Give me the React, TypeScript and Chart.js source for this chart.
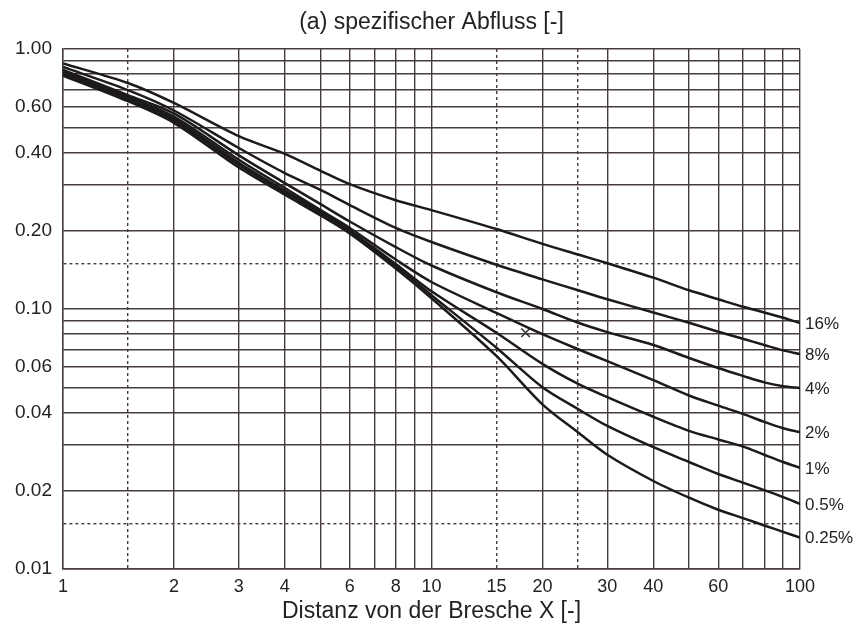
import React, { useEffect, useRef } from "react";
import { Chart, registerables } from "chart.js";

Chart.register(...registerables);

// ---- data ----
const distances = [1, 1.5, 2, 3, 4, 5, 6, 8, 10, 15, 20, 25, 30, 40, 50, 60, 70, 80, 90, 100];
const seriesLabels = ["16%", "8%", "4%", "2%", "1%", "0.5%", "0.25%"];
const q16 = [0.88, 0.74, 0.62, 0.462, 0.395, 0.34, 0.302, 0.262, 0.24, 0.203, 0.178, 0.162, 0.15, 0.132, 0.118, 0.109, 0.102, 0.097, 0.0925, 0.0883];
const q8 = [0.853, 0.695, 0.58, 0.416, 0.333, 0.287, 0.251, 0.205, 0.181, 0.148, 0.13, 0.118, 0.109, 0.097, 0.0885, 0.0818, 0.0768, 0.0727, 0.0693, 0.0671];
const q4 = [0.83, 0.665, 0.565, 0.39, 0.305, 0.253, 0.217, 0.173, 0.147, 0.116, 0.1, 0.0885, 0.0815, 0.0727, 0.0648, 0.0593, 0.0553, 0.0522, 0.0505, 0.0497];
const q2 = [0.82, 0.655, 0.55, 0.375, 0.292, 0.24, 0.205, 0.155, 0.127, 0.0966, 0.08, 0.07, 0.063, 0.0533, 0.0465, 0.0425, 0.0395, 0.0368, 0.0348, 0.0336];
const q1 = [0.81, 0.645, 0.54, 0.365, 0.285, 0.236, 0.201, 0.149, 0.117, 0.081, 0.0615, 0.0515, 0.0458, 0.0385, 0.034, 0.0315, 0.0296, 0.0275, 0.0258, 0.0245];
const q05 = [0.8, 0.64, 0.53, 0.358, 0.28, 0.233, 0.198, 0.146, 0.113, 0.071, 0.05, 0.0412, 0.0355, 0.0294, 0.0258, 0.0232, 0.0215, 0.0201, 0.0189, 0.0178];
const q025 = [0.79, 0.63, 0.52, 0.35, 0.275, 0.229, 0.195, 0.143, 0.11, 0.066, 0.043, 0.0335, 0.0275, 0.0218, 0.0188, 0.0169, 0.0157, 0.0147, 0.0139, 0.0132];
const markerPoint = [{ x: 18, y: 0.081 }];

const xGridValues = [1, 1.5, 2, 3, 4, 5, 6, 7, 8, 9, 10, 15, 20, 25, 30, 40, 50, 60, 70, 80, 90, 100];
const xDashedValues = [1.5, 15, 25];
const xTickLabels = [1, 2, 3, 4, 6, 8, 10, 15, 20, 30, 40, 60, 100];
const yGridValues = [0.01, 0.015, 0.02, 0.03, 0.04, 0.05, 0.06, 0.07, 0.08, 0.09, 0.1, 0.15, 0.2, 0.3, 0.4, 0.5, 0.6, 0.7, 0.8, 0.9, 1];
const yDashedValues = [0.015, 0.15];
const yTickLabels = [0.01, 0.02, 0.04, 0.06, 0.1, 0.2, 0.4, 0.6, 1];

const chartTitle = "(a) spezifischer Abfluss [-]";
const xTitle = "Distanz von der Bresche X [-]";

const FONT = '"Liberation Sans", Arial, Helvetica, sans-serif';
const GRID = "#463c3a";
const INK = "#1d1a1a";

const isIn = (v: number, list: number[]) => list.some((t) => Math.abs(v / t - 1) < 1e-6);

export default function App() {
  const ref = useRef<HTMLCanvasElement | null>(null);

  useEffect(() => {
    if (!ref.current) return;
    const series = [q16, q8, q4, q2, q1, q05, q025];

    const datasets: any[] = series.map((vals, i) => ({
      type: "line",
      label: seriesLabels[i],
      data: distances.map((x, j) => ({ x, y: vals[j] })),
      borderColor: INK,
      borderWidth: 2.5,
      pointRadius: 0,
      fill: false,
      tension: 0.3,
    }));
    datasets.push({
      type: "scatter",
      label: "marker",
      data: markerPoint,
      pointStyle: "crossRot",
      pointRadius: 6,
      borderColor: "#333",
      borderWidth: 1.6,
      showLine: false,
    });

    const labelsPlugin = {
      id: "customText",
      afterDraw(chart: any) {
        const { ctx, chartArea } = chart;
        const cx = (chartArea.left + chartArea.right) / 2;
        ctx.save();
        ctx.fillStyle = "#222";
        ctx.textAlign = "center";
        ctx.textBaseline = "alphabetic";
        ctx.font = `23px ${FONT}`;
        ctx.fillText(chartTitle, cx, 29);
        ctx.fillText(xTitle, cx, 618);
        ctx.font = `17px ${FONT}`;
        ctx.textAlign = "left";
        ctx.textBaseline = "middle";
        seriesLabels.forEach((lab, i) => {
          const meta = chart.getDatasetMeta(i);
          const last = meta.data[meta.data.length - 1];
          ctx.fillText(lab, chartArea.right + 5, last.y + 1);
        });
        ctx.restore();
      },
    };

    const chart = new Chart(ref.current, {
      type: "line",
      data: { datasets },
      options: {
        animation: false,
        responsive: true,
        maintainAspectRatio: false,
        layout: { padding: { left: 0, right: 64, top: 49, bottom: 0 } },
        plugins: { legend: { display: false }, tooltip: { enabled: false }, title: { display: false } },
        scales: {
          x: {
            type: "logarithmic",
            min: 1,
            max: 100,
            afterBuildTicks: (scale: any) => {
              scale.ticks = xGridValues.map((v) => ({ value: v }));
            },
            afterFit: (scale: any) => {
              scale.height = 56;
            },
            ticks: {
              autoSkip: false,
              maxRotation: 0,
              minRotation: 0,
              padding: 7,
              color: "#222",
              font: { family: FONT, size: 18 },
              callback: (value: any) => (isIn(Number(value), xTickLabels) ? String(value) : ""),
            },
            grid: { color: GRID, lineWidth: 1.4, drawTicks: false },
            border: {
              display: true,
              color: GRID,
              width: 1.4,
              dash: (ctx: any) => (ctx.tick && isIn(ctx.tick.value, xDashedValues) ? [3, 3] : []),
            },
          },
          y: {
            type: "logarithmic",
            min: 0.01,
            max: 1,
            afterBuildTicks: (scale: any) => {
              scale.ticks = yGridValues.map((v) => ({ value: v }));
            },
            afterFit: (scale: any) => {
              scale.width = 63;
            },
            ticks: {
              autoSkip: false,
              padding: 11,
              color: "#222",
              font: { family: FONT, size: 19 },
              callback: (value: any) => (isIn(Number(value), yTickLabels) ? Number(value).toFixed(2) : ""),
            },
            grid: { color: GRID, lineWidth: 1.4, drawTicks: false },
            border: {
              display: true,
              color: GRID,
              width: 1.4,
              dash: (ctx: any) => (ctx.tick && isIn(ctx.tick.value, yDashedValues) ? [3, 3] : []),
            },
          },
        },
      },
      plugins: [labelsPlugin],
    } as any);

    return () => chart.destroy();
  }, []);

  return (
    <div style={{ position: "absolute", left: 0, top: 0, width: 864, height: 625, background: "#fff" }}>
      <canvas ref={ref} />
    </div>
  );
}
